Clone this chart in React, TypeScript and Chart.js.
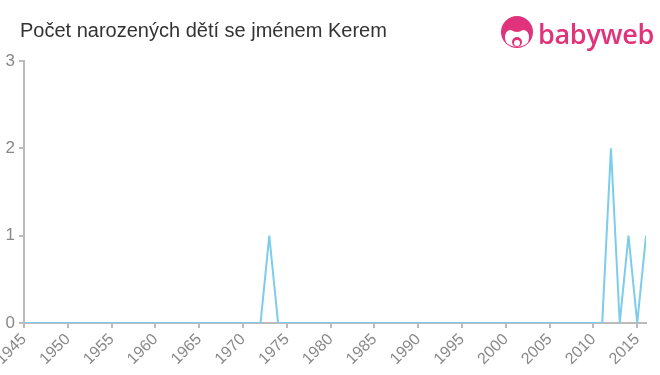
import React, { useEffect, useRef } from "react";
import { Chart, registerables } from "chart.js";

Chart.register(...registerables);

const TITLE = "Počet narozených dětí se jménem Kerem";

const years: number[] = [
  1945, 1946, 1947, 1948, 1949, 1950, 1951, 1952, 1953, 1954,
  1955, 1956, 1957, 1958, 1959, 1960, 1961, 1962, 1963, 1964,
  1965, 1966, 1967, 1968, 1969, 1970, 1971, 1972, 1973, 1974,
  1975, 1976, 1977, 1978, 1979, 1980, 1981, 1982, 1983, 1984,
  1985, 1986, 1987, 1988, 1989, 1990, 1991, 1992, 1993, 1994,
  1995, 1996, 1997, 1998, 1999, 2000, 2001, 2002, 2003, 2004,
  2005, 2006, 2007, 2008, 2009, 2010, 2011, 2012, 2013, 2014,
  2015, 2016,
];

const counts: number[] = [
  0, 0, 0, 0, 0, 0, 0, 0, 0, 0,
  0, 0, 0, 0, 0, 0, 0, 0, 0, 0,
  0, 0, 0, 0, 0, 0, 0, 0, 1, 0,
  0, 0, 0, 0, 0, 0, 0, 0, 0, 0,
  0, 0, 0, 0, 0, 0, 0, 0, 0, 0,
  0, 0, 0, 0, 0, 0, 0, 0, 0, 0,
  0, 0, 0, 0, 0, 0, 0, 2, 0, 1,
  0, 1,
];

const X_MIN = 1945;
const X_MAX = 2016;
const X_STEP = 5;
const Y_MIN = 0;
const Y_MAX = 3;

const AXIS_COLOR = "#bbbbbb";
const TICK_COLOR = "#888888";
const LINE_COLOR = "#7ccdeb";
const PINK = "#e0337b";

function Logo() {
  return (
    <div
      style={{
        position: "absolute",
        left: 500,
        top: 14,
        display: "flex",
        alignItems: "center",
        height: 40,
      }}
    >
      <svg width="34" height="36" viewBox="0 0 34 36">
        <circle cx="17" cy="16" r="16" fill={PINK} />
        <path d="M5 22 Q5 14 11 14 Q17 18 23 14 Q29 14 29 22 Q29 30 17 31 Q5 30 5 22 Z" fill="#fff" />
        <circle cx="17" cy="26" r="5" fill={PINK} />
        <circle cx="17" cy="27" r="3" fill="#fff" />
      </svg>
      <span
        style={{
          fontFamily: "'Open Sans', Arial, sans-serif",
          fontSize: 27,
          fontWeight: 600,
          color: PINK,
          marginLeft: 4,
          letterSpacing: -0.3,
          lineHeight: "36px",
        }}
      >
        babyweb
      </span>
    </div>
  );
}

export default function App() {
  const canvasRef = useRef<HTMLCanvasElement | null>(null);

  useEffect(() => {
    document.body.style.margin = "0";
    const canvas = canvasRef.current;
    if (!canvas) return;
    const chart = new Chart(canvas, {
      type: "line",
      data: {
        datasets: [
          {
            data: years.map((y, i) => ({ x: y, y: counts[i] })),
            borderColor: LINE_COLOR,
            borderWidth: 2,
            pointRadius: 0,
            tension: 0,
            fill: false,
          },
        ],
      },
      options: {
        animation: false,
        responsive: false,
        maintainAspectRatio: false,
        layout: { padding: { top: 61, right: 14, left: 0, bottom: 0 } },
        plugins: {
          legend: { display: false },
          title: { display: false },
          tooltip: { enabled: false },
        },
        scales: {
          x: {
            type: "linear",
            min: X_MIN,
            max: X_MAX,
            grid: {
              display: true,
              drawOnChartArea: false,
              drawTicks: true,
              tickLength: 5,
              color: AXIS_COLOR,
              lineWidth: 2,
            },
            border: { display: true, color: AXIS_COLOR, width: 2 },
            ticks: {
              stepSize: X_STEP,
              includeBounds: false,
              autoSkip: false,
              maxRotation: 45,
              minRotation: 45,
              padding: 2,
              color: TICK_COLOR,
              font: { family: "'Liberation Sans', Arial, sans-serif", size: 16 },
              callback: (v: any) => String(v),
            },
            afterFit: (scale: any) => {
              scale.height = 52;
              scale.paddingLeft = 0;
              scale.paddingRight = 0;
            },
          },
          y: {
            min: Y_MIN,
            max: Y_MAX,
            grid: {
              display: true,
              drawOnChartArea: false,
              drawTicks: true,
              tickLength: 5,
              color: AXIS_COLOR,
              lineWidth: 2,
            },
            border: { display: true, color: AXIS_COLOR, width: 2 },
            ticks: {
              stepSize: 1,
              padding: 4,
              color: TICK_COLOR,
              font: { family: "'Liberation Sans', Arial, sans-serif", size: 17 },
            },
            afterFit: (scale: any) => {
              scale.width = 24;
              scale.paddingTop = 0;
              scale.paddingBottom = 0;
            },
          },
        },
      },
    });
    return () => chart.destroy();
  }, []);

  return (
    <div style={{ position: "fixed", left: 0, top: 0, width: 660, height: 375, background: "#fff" }}>
      <canvas ref={canvasRef} width={660} height={375} style={{ position: "absolute", left: 0, top: 0 }} />
      <div
        style={{
          position: "absolute",
          left: 20,
          top: 19,
          fontFamily: "'Liberation Sans', Arial, sans-serif",
          fontSize: 20,
          color: "#333333",
          whiteSpace: "nowrap",
        }}
      >
        {TITLE}
      </div>
      <Logo />
    </div>
  );
}
